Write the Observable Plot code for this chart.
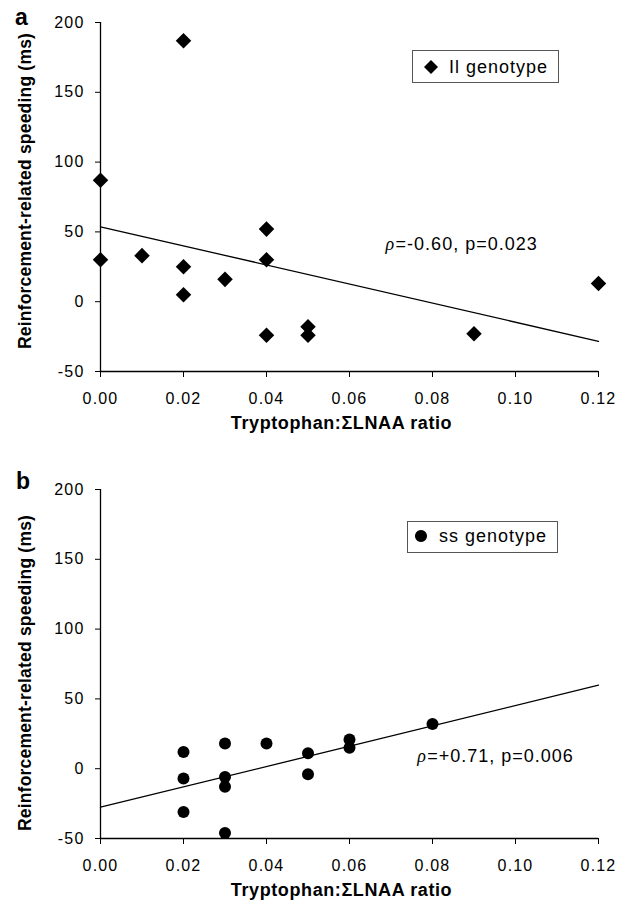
<!DOCTYPE html>
<html><head><meta charset="utf-8">
<script src="https://cdn.jsdelivr.net/npm/d3@7"></script>
<script src="https://cdn.jsdelivr.net/npm/@observablehq/plot@0.6"></script>
<style>
body{margin:0;background:#fff;font-family:"Liberation Sans",Arial,sans-serif;}
.panel{position:relative;width:627px;}
.letter{position:absolute;font-weight:bold;font-size:23px;line-height:1;}
.legend{position:absolute;border:1px solid #555;box-sizing:border-box;background:#fff;font-size:18px;letter-spacing:1px;}
.legend svg{position:absolute;}
.legend span{position:absolute;white-space:nowrap;line-height:1;}
g[aria-label="x-axis tick label"] text, g[aria-label="y-axis tick label"] text{letter-spacing:1.2px;}
.xt text{letter-spacing:0.6px;}
.yt text{letter-spacing:0.2px;}
.st text{letter-spacing:1px;}
</style></head><body>
<div id="pa" class="panel"></div>
<div id="pb" class="panel"></div>
<script>
// ----- data -----
const xTicks = [0, 0.02, 0.04, 0.06, 0.08, 0.10, 0.12];
const yTicks = [-50, 0, 50, 100, 150, 200];
const xTitle = "Tryptophan:\u03A3LNAA ratio";
const yTitle = "Reinforcement-related speeding (ms)";

// panel a: ll genotype
const llRatio = [0.00, 0.00, 0.01, 0.02, 0.02, 0.02, 0.03, 0.04, 0.04, 0.04, 0.05, 0.05, 0.09, 0.12];
const llSpeed = [87, 30, 33, 187, 25, 5, 16, 52, 30, -24, -18, -24, -23, 13];
const llLegend = "Il genotype";
const llStat = "=-0.60, p=0.023";
const llStatAt = [0.0687, 41];

// panel b: ss genotype
const ssRatio = [0.02, 0.02, 0.02, 0.03, 0.03, 0.03, 0.03, 0.04, 0.05, 0.05, 0.06, 0.06, 0.08];
const ssSpeed = [12, -7, -31, 18, -6, -13, -46, 18, 11, -4, 21, 15, 32];
const ssLegend = "ss genotype";
const ssStat = "=+0.71, p=0.006";
const ssStatAt = [0.0763, 9];

function fit(xs, ys) {
  const mx = d3.mean(xs), my = d3.mean(ys);
  let sxy = 0, sxx = 0;
  xs.forEach((x, i) => { sxy += (x - mx) * (ys[i] - my); sxx += (x - mx) ** 2; });
  const b = sxy / sxx, a = my - b * mx;
  const dom = d3.extent(xTicks);
  return dom.map(x => ({x, y: a + b * x}));
}

function makePanel(opts) {
  const data = opts.xs.map((x, i) => ({x, y: opts.ys[i]}));
  return Plot.plot({
    width: 627,
    height: opts.height,
    marginTop: opts.mt,
    marginBottom: opts.mb,
    marginLeft: 100,
    marginRight: 29,
    style: {fontFamily: "'Liberation Sans', Arial, sans-serif", fontSize: "16px", background: "white", color: "black"},
    x: {domain: d3.extent(xTicks)},
    y: {domain: d3.extent(yTicks)},
    marks: [
      Plot.ruleX([xTicks[0]], {stroke: "black", strokeWidth: 1.3}),
      Plot.ruleY([yTicks[0]], {stroke: "black", strokeWidth: 1.3}),
      Plot.axisX(xTicks, {tickSize: 6, tickPadding: 15, tickFormat: d => d.toFixed(2), label: null, fontSize: 16, stroke: "black"}),
      Plot.axisY(yTicks, {tickSize: 5, tickPadding: 11, tickFormat: d => String(d), label: null, fontSize: 16, stroke: "black"}),
      Plot.text([xTitle], {frameAnchor: "bottom", dy: 57, dx: -8, fontWeight: "bold", fontSize: 18, text: d => d, fill: "black", className: "xt"}),
      Plot.text([yTitle], {frameAnchor: "left", dx: -75, dy: opts.ytdy, rotate: -90, textAnchor: "middle", fontWeight: "bold", fontSize: 17.5, text: d => d, fill: "black", className: "yt"}),
      Plot.line(fit(opts.xs, opts.ys), {x: "x", y: "y", stroke: "black", strokeWidth: 1.3}),
      Plot.dot(data, {x: "x", y: "y", symbol: opts.symbol, r: opts.r, fill: "black", stroke: "none"}),
      Plot.text([opts.statAt], {x: d => d[0], y: d => d[1], text: () => "\u03C1", textAnchor: "start", fontFamily: "'Liberation Serif', serif", fontStyle: "italic", fontSize: 18, fill: "black"}),
      Plot.text([opts.statAt], {x: d => d[0], y: d => d[1], dx: 10, text: () => opts.stat, textAnchor: "start", fontSize: 18, fill: "black", className: "st"})
    ]
  });
}

const sa = makePanel({xs: llRatio, ys: llSpeed, symbol: "diamond2", r: 7, height: 440, mt: 22, mb: 69, ytdy: -6, stat: llStat, statAt: llStatAt});
const sb = makePanel({xs: ssRatio, ys: ssSpeed, symbol: "circle", r: 6, height: 468, mt: 49, mb: 70, ytdy: 9, stat: ssStat, statAt: ssStatAt});
document.getElementById("pa").appendChild(sa);
document.getElementById("pb").appendChild(sb);

function addLetter(id, ch, left, top) {
  const d = document.createElement("div");
  d.className = "letter"; d.textContent = ch;
  d.style.left = left + "px"; d.style.top = top + "px";
  document.getElementById(id).appendChild(d);
}
addLetter("pa", "a", 15, 6);
addLetter("pb", "b", 16, 30);

function addLegend(id, label, glyph, box, gx, gy, tx, ty) {
  const d = document.createElement("div");
  d.className = "legend";
  Object.assign(d.style, {left: box[0] + "px", top: box[1] + "px", width: box[2] + "px", height: box[3] + "px"});
  const ns = "http://www.w3.org/2000/svg";
  const s = document.createElementNS(ns, "svg");
  s.setAttribute("width", 20); s.setAttribute("height", 20);
  s.style.left = (gx - 10) + "px"; s.style.top = (gy - 10) + "px";
  const p = document.createElementNS(ns, "path");
  p.setAttribute("d", glyph === "diamond" ? "M10,3L17,10L10,17L3,10Z" : "M10,4A6,6 0 1 1 9.99,4Z");
  p.setAttribute("fill", "black");
  s.appendChild(p); d.appendChild(s);
  const t = document.createElement("span");
  t.textContent = label; t.style.left = tx + "px"; t.style.top = ty + "px";
  d.appendChild(t);
  document.getElementById(id).appendChild(d);
}
addLegend("pa", llLegend, "diamond", [412, 50, 147, 33], 18, 16, 36, 7);
addLegend("pb", ssLegend, "circle", [407, 81, 151, 32], 13, 14, 31, 5);
</script>
</body></html>
